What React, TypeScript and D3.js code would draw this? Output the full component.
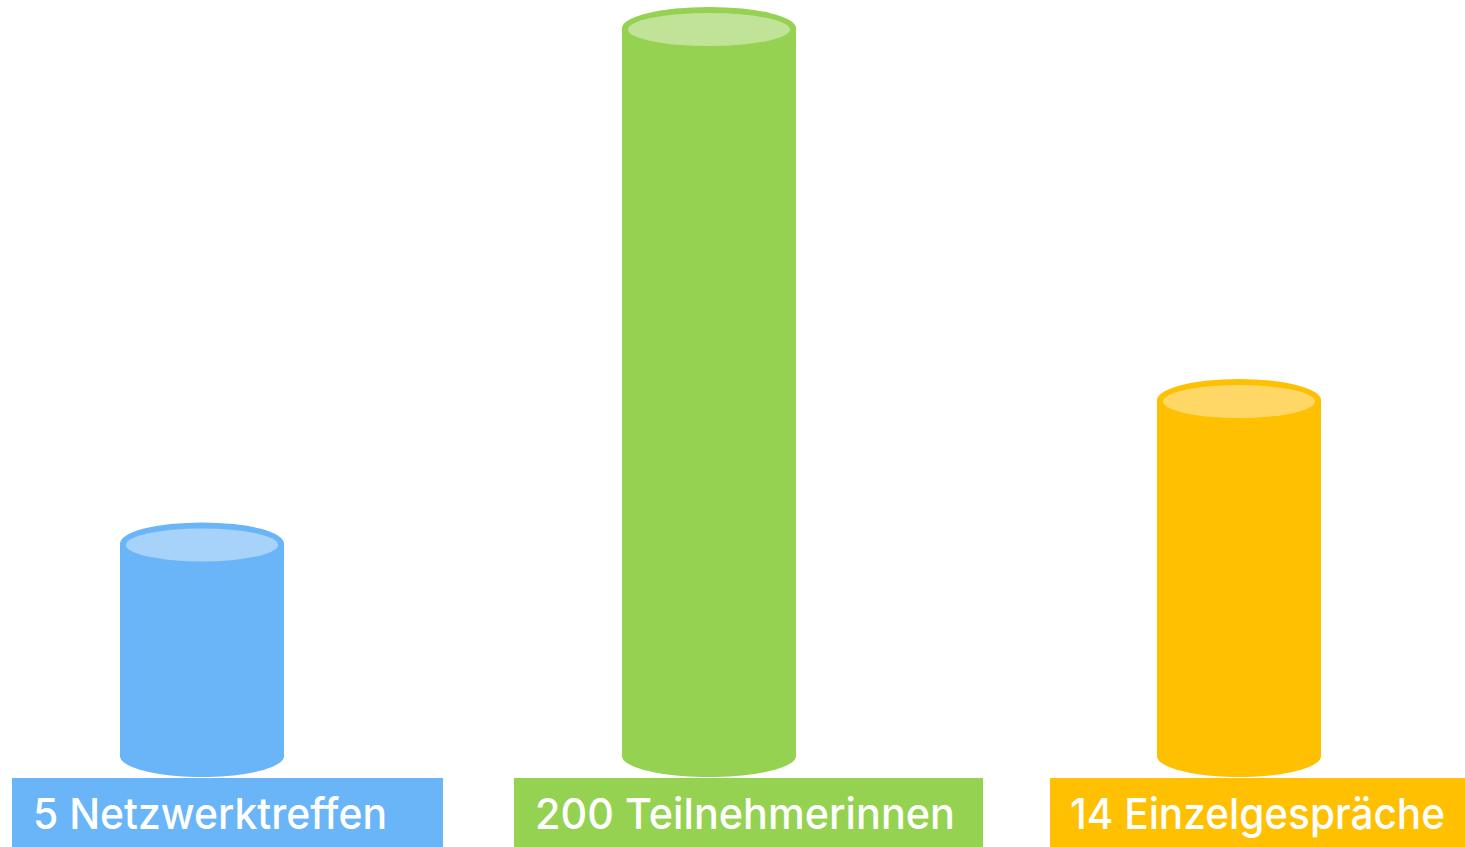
import React from "react";
import * as d3 from "d3";

// Data
const categories = ["Netzwerktreffen", "Teilnehmerinnen", "Einzelgespräche"];
const counts = [5, 200, 14];
// Relative visual height of each cylinder (percent of the tallest)
const visualLevel = [29.2, 100, 48.9];

// Styles / layout
const W = 1465;
const H = 847;
const bodyColors = ["#6AB5F7", "#95D252", "#FEC000"];
const topColors = ["#A7D3FA", "#C0E398", "#FED766"];
const cylCenters = [202, 709, 1239];
const cylWidths = [164, 174, 164];
const labelBoxes = [
  { x0: 12, x1: 443, tx0: 33, tx1: 387 },
  { x0: 514, x1: 983, tx0: 535, tx1: 955 },
  { x0: 1050, x1: 1465, tx0: 1070, tx1: 1445 },
];

export default function App() {
  const baseY = 756;
  const ry = 21;
  const y = d3.scaleLinear().domain([0, 100]).range([baseY, 28]);

  return (
    <svg
      width={W}
      height={H}
      style={{ position: "absolute", left: 0, top: 0, display: "block", background: "#fff" }}
    >
      {categories.map((c, i) => {
        const cx = cylCenters[i];
        const rx = cylWidths[i] / 2;
        const top = y(visualLevel[i]);
        const path = d3.path();
        path.moveTo(cx - rx, top);
        path.lineTo(cx - rx, baseY);
        const steps = 40;
        for (let k = 0; k <= steps; k++) {
          const a = Math.PI - (Math.PI * k) / steps;
          path.lineTo(cx + rx * Math.cos(a), baseY + ry * Math.sin(a));
        }
        path.lineTo(cx + rx, top);
        path.closePath();
        return (
          <g key={c}>
            <path d={path.toString()} fill={bodyColors[i]} />
            <ellipse cx={cx} cy={top} rx={rx} ry={ry} fill={bodyColors[i]} />
            <ellipse cx={cx} cy={top + 1.5} rx={rx - 6} ry={16.5} fill={topColors[i]} />
          </g>
        );
      })}
      {categories.map((c, i) => {
        const b = labelBoxes[i];
        return (
          <g key={"l" + c}>
            <rect x={b.x0} y={778} width={b.x1 - b.x0} height={H - 778} fill={bodyColors[i]} />
            <text
              x={b.tx0}
              y={829}
              fill="#fff"
              fontFamily="Inter, 'Noto Sans', sans-serif"
              fontWeight={500}
              fontSize={43}
              textLength={b.tx1 - b.tx0}
              lengthAdjust="spacingAndGlyphs"
            >
              {`${counts[i]} ${c}`}
            </text>
          </g>
        );
      })}
    </svg>
  );
}
